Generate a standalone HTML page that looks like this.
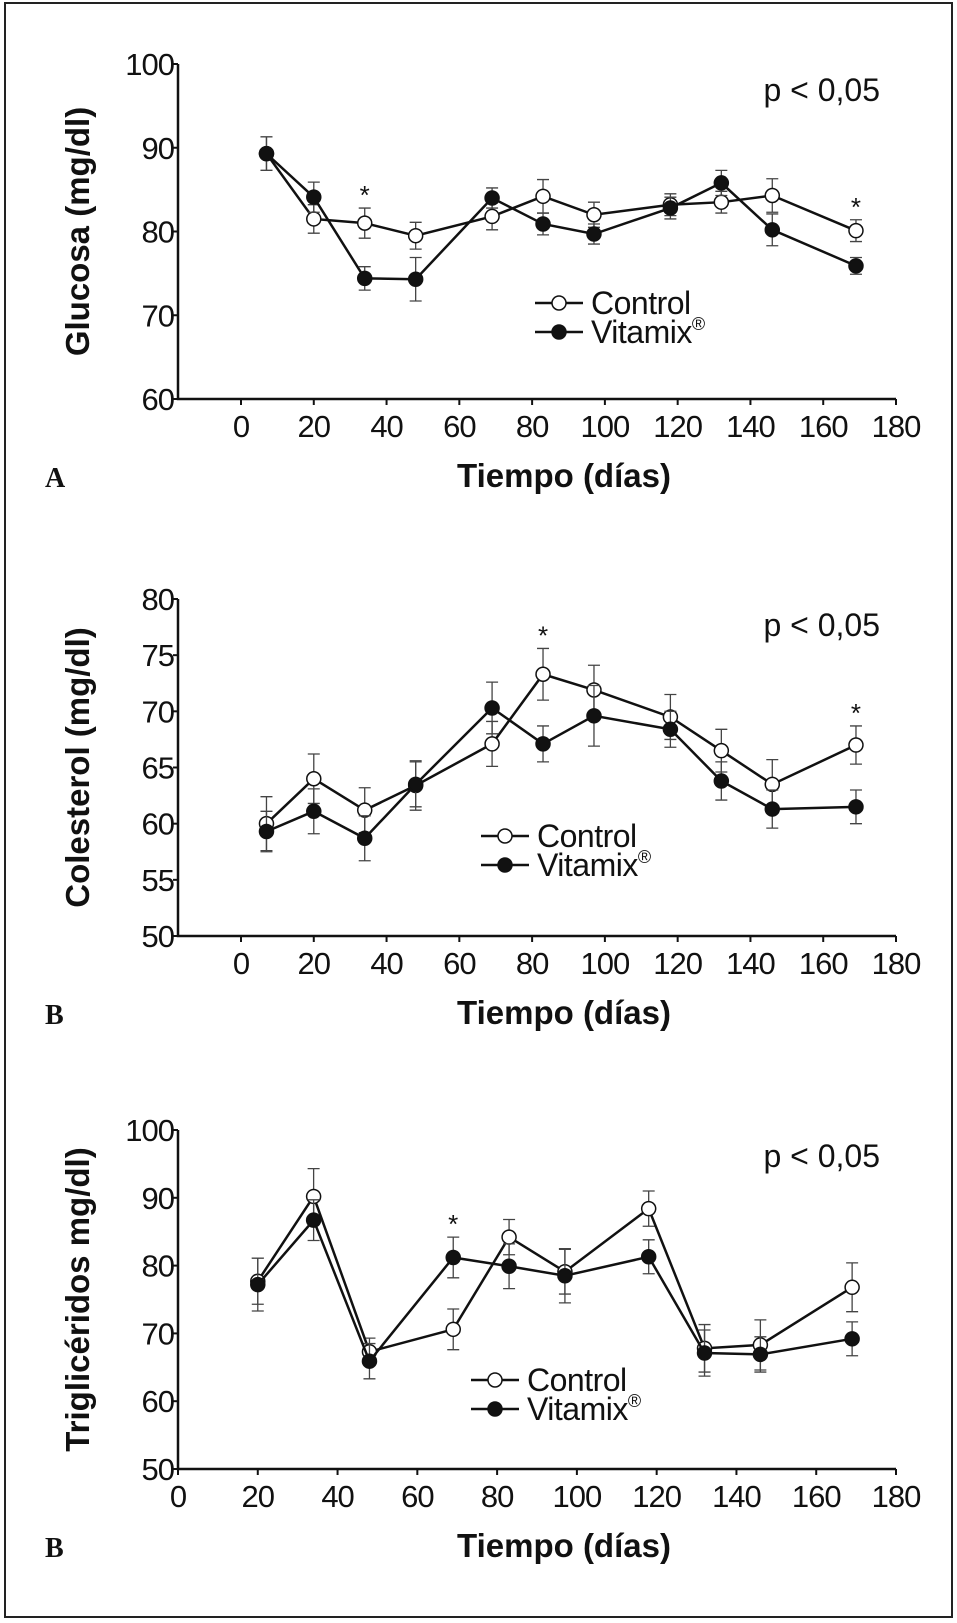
<!DOCTYPE html>
<html><head><meta charset="utf-8"><style>
html,body{margin:0;padding:0;background:#fff}
svg{display:block}
text{font-family:"Liberation Sans",Arial,sans-serif;fill:#111}
</style></head><body>
<svg id="s" width="957" height="1623" viewBox="0 0 957 1623" xmlns="http://www.w3.org/2000/svg">
<rect x="5" y="3" width="947" height="1614" fill="none" stroke="#222" stroke-width="2"/>
</svg>
<script>
const timesA=[7,20,34,48,69,83,97,118,132,146,169];
const ctrlA=[89.3,81.5,81,79.5,81.8,84.2,82,83.2,83.5,84.3,80.1];
const vitA=[89.3,84.1,74.4,74.3,84,80.9,79.7,82.8,85.8,80.2,75.9];
const errCA=[2,1.7,1.8,1.6,1.6,2,1.5,1.3,1.3,2,1.3];
const errVA=[2,1.8,1.4,2.6,1.2,1.3,1.2,1.3,1.5,1.9,1];
const starsA=[34,169];
const ticksA=[60,70,80,90,100];
const timesB=[7,20,34,48,69,83,97,118,132,146,169];
const ctrlB=[60,64,61.2,63.4,67.1,73.3,71.9,69.5,66.5,63.5,67];
const vitB=[59.3,61.1,58.7,63.5,70.3,67.1,69.6,68.4,63.8,61.3,61.5];
const errCB=[2.4,2.2,2,2.2,2,2.3,2.2,2,1.9,2.2,1.7];
const errVB=[1.8,2,2,2,2.3,1.6,2.7,1.6,1.7,1.7,1.5];
const starsB=[83,169];
const ticksB=[50,55,60,65,70,75,80];
const timesC=[20,34,48,69,83,97,118,132,146,169];
const ctrlC=[77.7,90.2,67.3,70.6,84.2,79.1,88.4,67.8,68.3,76.8];
const vitC=[77.2,86.7,65.9,81.2,79.9,78.5,81.3,67.1,66.9,69.2];
const errCC=[3.4,4.1,2,3,2.6,3.3,2.6,3.5,3.7,3.6];
const errVC=[3.9,3,2.6,3,3.3,4,2.5,3.4,2.6,2.5];
const starsC=[69];
const ticksC=[50,60,70,80,90,100];
const xTicks=[0,20,40,60,80,100,120,140,160,180];

const S=document.getElementById('s');
const NS='http://www.w3.org/2000/svg';
function mk(tag,attrs,parent,txt){const e=document.createElementNS(NS,tag);for(const k in attrs)e.setAttribute(k,attrs[k]);if(txt!==undefined)e.textContent=txt;(parent||S).appendChild(e);return e;}

function panel(o){
  const g=mk('g',{});
  
  
  const X=v=>o.x0+(v-0)/(180)*(o.x180-o.x0);
  const Y=v=>o.yB-(v-o.ymin)/(o.ymax-o.ymin)*(o.yB-o.yT);
  const ax=mk('path',{d:`M${o.axX} ${o.yT} V${o.yB} H${X(180)}`,fill:'none',stroke:'#111','stroke-width':2.5},g);
  
  
  o.yt.forEach(v=>{
    mk('line',{x1:o.axX-5,x2:o.axX,y1:Y(v),y2:Y(v),stroke:'#111','stroke-width':2},g);
    const t=mk('text',{x:o.axX-4,y:Y(v)+11,'text-anchor':'end','font-size':31,'letter-spacing':-1},g,String(v));
    
    
  });
  xTicks.forEach(v=>{
    mk('line',{x1:X(v),x2:X(v),y1:o.yB,y2:o.yB+6,stroke:'#111','stroke-width':2},g);
    const t=mk('text',{x:X(v),y:o.yB+38,'text-anchor':'middle','font-size':31,'letter-spacing':-1},g,String(v));
    
    
  });
  const yt=mk('text',{x:0,y:0,transform:`translate(${o.ytX},${(o.yT+o.yB)/2}) rotate(-90)`,'text-anchor':'middle','font-size':33,'font-weight':'bold'},g,o.ytitle);
  
  
  const xt=mk('text',{x:564,y:o.yB+88,'text-anchor':'middle','font-size':33,'font-weight':'bold'},g,'Tiempo (días)');
  
  
  const lab=mk('text',{x:45,y:o.yB+88,'font-size':28,'font-weight':'bold',style:'font-family:"Liberation Serif",serif'},g,o.letter);
  
  
  const p=mk('text',{x:880,y:o.yT+37,'text-anchor':'end','font-size':32},g,'p < 0,05');
  
  
  function series(ts,vs,es,filled,nm){
    const sg=mk('g',{},g);
    
    
    ts.forEach((t,i)=>{
      const x=X(t),y1=Y(vs[i]-es[i]),y2=Y(vs[i]+es[i]);
      mk('path',{d:`M${x} ${y1}V${y2}M${x-6} ${y1}H${x+6}M${x-6} ${y2}H${x+6}`,stroke:'#444','stroke-width':1.3,fill:'none'},sg);
    });
    const pl=mk('polyline',{points:ts.map((t,i)=>X(t)+','+Y(vs[i])).join(' '),fill:'none',stroke:'#111','stroke-width':2.5},sg);
    
    
    ts.forEach((t,i)=>{
      const c=mk('circle',{cx:X(t),cy:Y(vs[i]),r:7,fill:filled?'#111':'#fff',stroke:'#111','stroke-width':1.5},sg);
      
      
    });
  }
  series(o.t,o.c,o.ec,false,'control-series');
  series(o.t,o.v,o.ev,true,'vitamix-series');
  o.st.forEach(t=>{
    const i=o.t.indexOf(t);
    const top=Math.max(o.c[i]+o.ec[i],o.v[i]+o.ev[i]);
    const a=mk('text',{x:X(t),y:Y(top)-4,'text-anchor':'middle','font-size':26},g,'*');
    
    
  });
  const lg=mk('g',{},g);
  
  
  [['Control',false,0],['Vitamix',true,29]].forEach(([n,f,dy])=>{
    const y=o.ly+dy;
    mk('line',{x1:o.lx,x2:o.lx+48,y1:y,y2:y,stroke:'#111','stroke-width':2.5},lg);
    mk('circle',{cx:o.lx+24,cy:y,r:7,fill:f?'#111':'#fff',stroke:'#111','stroke-width':1.5},lg);
    const t=mk('text',{x:o.lx+56,y:y+11,'font-size':32,'letter-spacing':-0.5},lg,n);
    if(f){mk('tspan',{'font-size':18,dy:-13},t,'®');}
    
    
  });
}
panel({name:'glucose-chart',x0:241,x180:896,axX:178,yT:64,yB:399,ymin:60,ymax:100,yt:ticksA,t:timesA,c:ctrlA,v:vitA,ec:errCA,ev:errVA,st:starsA,ytitle:'Glucosa (mg/dl)',ytX:89,letter:'A',lx:535,ly:303});
panel({name:'cholesterol-chart',x0:241,x180:896,axX:178,yT:599,yB:936,ymin:50,ymax:80,yt:ticksB,t:timesB,c:ctrlB,v:vitB,ec:errCB,ev:errVB,st:starsB,ytitle:'Colesterol (mg/dl)',ytX:89,letter:'B',lx:481,ly:836});
panel({name:'triglycerides-chart',x0:178,x180:896,axX:178,yT:1130,yB:1469,ymin:50,ymax:100,yt:ticksC,t:timesC,c:ctrlC,v:vitC,ec:errCC,ev:errVC,st:starsC,ytitle:'Triglicéridos mg/dl)',ytX:89,letter:'B',lx:471,ly:1380});
</script>
</body></html>
